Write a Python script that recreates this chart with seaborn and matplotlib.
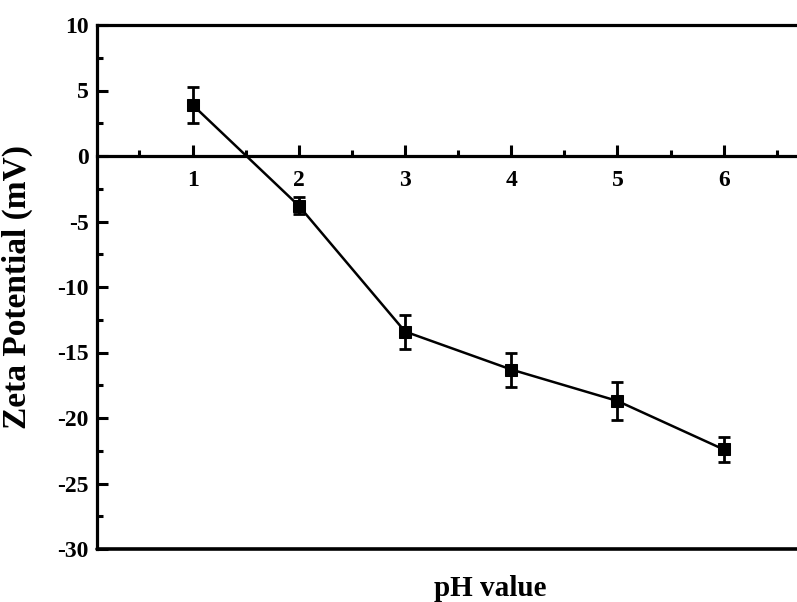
import matplotlib
matplotlib.use("Agg")
import matplotlib.pyplot as plt
import seaborn as sns
import numpy as np
import pandas as pd
from matplotlib.ticker import MultipleLocator

# data
ph = [1, 2, 3, 4, 5, 6]
zeta = [3.9, -3.8, -13.4, -16.3, -18.7, -22.4]
zeta_err = [1.4, 0.65, 1.3, 1.3, 1.45, 0.95]
x_ticks = [1, 2, 3, 4, 5, 6]
y_ticks = [-30, -25, -20, -15, -10, -5, 0, 5, 10]

sns.set_style("ticks")
plt.rcParams['font.family'] = ['Liberation Serif', 'DejaVu Serif']
plt.rcParams['font.weight'] = 'bold'
plt.rcParams['text.color'] = 'black'
plt.rcParams['axes.labelcolor'] = 'black'
plt.rcParams['xtick.color'] = 'black'
plt.rcParams['ytick.color'] = 'black'

df = pd.DataFrame({"pH": ph, "zeta": zeta, "err": zeta_err})

fig = plt.figure(figsize=(7.97, 6.02), dpi=100)
ax = fig.add_axes([97/797, 1-549/602, (797-97)/797, (549-25)/602])

ax.errorbar(df["pH"], df["zeta"], yerr=df["err"], fmt='none', ecolor='black',
            elinewidth=2.0, capsize=4.5, capthick=2.0, zorder=3)
sns.lineplot(data=df, x="pH", y="zeta", ax=ax, color='black', linewidth=1.8,
             marker='s', markersize=8, markeredgecolor='black', markerfacecolor='black',
             zorder=4)

ax.set_xlim(0.1, 6.69)
ax.set_ylim(-30, 10)

ax.spines['bottom'].set_position(('data', 0))
ax.spines['right'].set_visible(False)
for s in ['bottom', 'left', 'top']:
    ax.spines[s].set_linewidth(2.3)
    ax.spines[s].set_color('black')
ax.axhline(-30, color='black', linewidth=2.6, clip_on=False, zorder=5)

ax.set_xticks(x_ticks)
ax.set_xticklabels([str(t) for t in x_ticks])
ax.xaxis.set_minor_locator(MultipleLocator(0.5))
ax.set_yticks(y_ticks)
ax.set_yticklabels([str(t) for t in y_ticks])
ax.yaxis.set_minor_locator(MultipleLocator(2.5))

ax.tick_params(axis='x', which='major', direction='in', length=8, width=2.2,
               labelsize=17, pad=10, top=False)
ax.tick_params(axis='x', which='minor', direction='in', length=4.5, width=2.2, top=False)
ax.tick_params(axis='y', which='major', direction='in', length=8, width=2.2,
               labelsize=17, pad=6, right=False)
ax.tick_params(axis='y', which='minor', direction='in', length=4.5, width=2.2, right=False)
for lab in ax.get_xticklabels() + ax.get_yticklabels():
    lab.set_fontweight('bold')

ax.set_xlabel("")
ax.set_ylabel("Zeta Potential (mV)", fontsize=24, fontweight='bold')
ax.yaxis.set_label_coords(-(97-33)/700, 0.5)
fig.text(490/797, 1-588/602, "pH value", fontsize=21, fontweight='bold',
         ha='center', va='center')

fig.savefig("out.png", dpi=100)
